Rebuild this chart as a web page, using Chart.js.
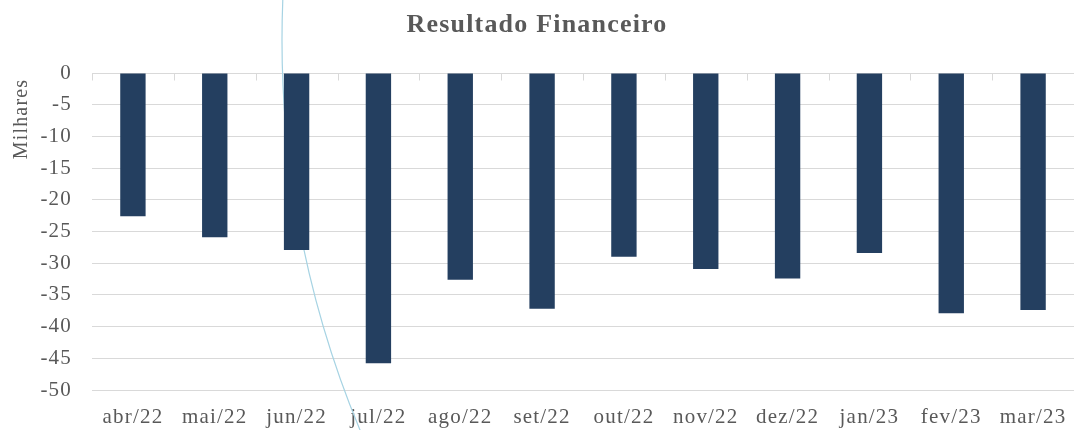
<!DOCTYPE html>
<html lang="pt">
<head>
<meta charset="utf-8">
<title>Resultado Financeiro</title>
<script src="https://cdn.jsdelivr.net/npm/chart.js@4"></script>
<style>
  html, body { margin: 0; padding: 0; background: #fff; }
  #wrap { width: 1074px; height: 430px; }
</style>
</head>
<body>
<div id="wrap"><canvas id="result-chart"></canvas></div>
<script>
// Data (values in thousands)
const months = ["abr/22", "mai/22", "jun/22", "jul/22", "ago/22", "set/22", "out/22", "nov/22", "dez/22", "jan/23", "fev/23", "mar/23"];
const resultValues = [-22.6, -25.9, -27.9, -45.8, -32.6, -37.2, -29.0, -30.9, -32.4, -28.4, -37.9, -37.4];
const yTicks = [0, -5, -10, -15, -20, -25, -30, -35, -40, -45, -50];

const textColor = "#595959";
const serif = "'Liberation Serif', 'Times New Roman', serif";

// the original font (Garamond) runs wider, so open up the spacing a bit
const wideText = {
  id: "wideText",
  beforeLayout(chart) { chart.ctx.letterSpacing = "1.2px"; },
  beforeDraw(chart) { chart.ctx.letterSpacing = "1.2px"; },
};

// small tick marks hanging off the zero line between categories
const zeroTicks = {
  id: "zeroTicks",
  afterDatasetsDraw(chart) {
    const { ctx, scales } = chart;
    const x = scales.x, y = scales.y;
    const half = (x.getPixelForValue(1) - x.getPixelForValue(0)) / 2;
    const y0 = Math.round(y.getPixelForValue(0)) + 0.5;
    ctx.save();
    ctx.strokeStyle = "#d9d9d9";
    ctx.lineWidth = 1;
    ctx.beginPath();
    for (let i = 0; i <= months.length; i++) {
      const px = Math.round(x.getPixelForValue(i) - half) + 0.5;
      ctx.moveTo(px, y0);
      ctx.lineTo(px, y0 + 7);
    }
    ctx.stroke();
    ctx.restore();
  },
};

// display-unit label ("Milhares") sits near the top of the value axis
const unitLabel = {
  id: "unitLabel",
  afterDraw(chart) {
    const { ctx } = chart;
    ctx.save();
    ctx.translate(27, 119);
    ctx.rotate(-Math.PI / 2);
    ctx.font = "20px " + serif;
    ctx.fillStyle = textColor;
    ctx.textAlign = "center";
    ctx.textBaseline = "alphabetic";
    ctx.fillText("Milhares", 0, 0);
    ctx.restore();
  },
};

// stray light-blue curve that crosses the reference picture
const strayCurve = {
  id: "strayCurve",
  beforeDatasetsDraw(chart) {
    const { ctx } = chart;
    ctx.save();
    ctx.strokeStyle = "#a6d3e3";
    ctx.lineWidth = 1.2;
    ctx.beginPath();
    ctx.arc(1296, 40, 1014, Math.PI - 0.40, Math.PI + 0.045, false);
    ctx.stroke();
    ctx.restore();
  },
};

document.addEventListener("DOMContentLoaded", () => {
  const ctx = document.getElementById("result-chart").getContext("2d");
  new Chart(ctx, {
    type: "bar",
    data: {
      labels: months,
      datasets: [
        {
          label: "Resultado Financeiro",
          data: resultValues,
          backgroundColor: "#243f60",
          borderWidth: 0,
          barPercentage: 0.31,
          categoryPercentage: 1,
        },
      ],
    },
    options: {
      responsive: true,
      maintainAspectRatio: false,
      animation: false,
      layout: { padding: 0 },
      plugins: {
        legend: { display: false },
        tooltip: { enabled: false },
        title: {
          display: true,
          text: "Resultado Financeiro",
          color: textColor,
          font: { family: serif, size: 26, weight: "bold" },
          padding: { top: 10, bottom: 31.8 },
        },
      },
      scales: {
        x: {
          offset: true,
          grid: { display: false, drawTicks: false },
          border: { display: false },
          ticks: {
            color: textColor,
            font: { family: serif, size: 21 },
            padding: 15,
            maxRotation: 0,
            autoSkip: false,
          },
          afterFit: (s) => {
            s.height = 40;
            s.paddingLeft = 0;
            s.paddingRight = 0;
          },
        },
        y: {
          min: -50,
          max: 0,
          grid: { color: "#d9d9d9", lineWidth: 1, drawTicks: false },
          border: { display: false },
          afterBuildTicks: (s) => { s.ticks = yTicks.map((v) => ({ value: v })); },
          ticks: {
            color: textColor,
            font: { family: serif, size: 21 },
            padding: 20,
            callback: (v) => String(v),
          },
          afterFit: (s) => {
            s.width = 92;
            s.paddingTop = 0;
            s.paddingBottom = 0;
          },
        },
      },
    },
    plugins: [wideText, strayCurve, zeroTicks, unitLabel],
  });
});
</script>
</body>
</html>
